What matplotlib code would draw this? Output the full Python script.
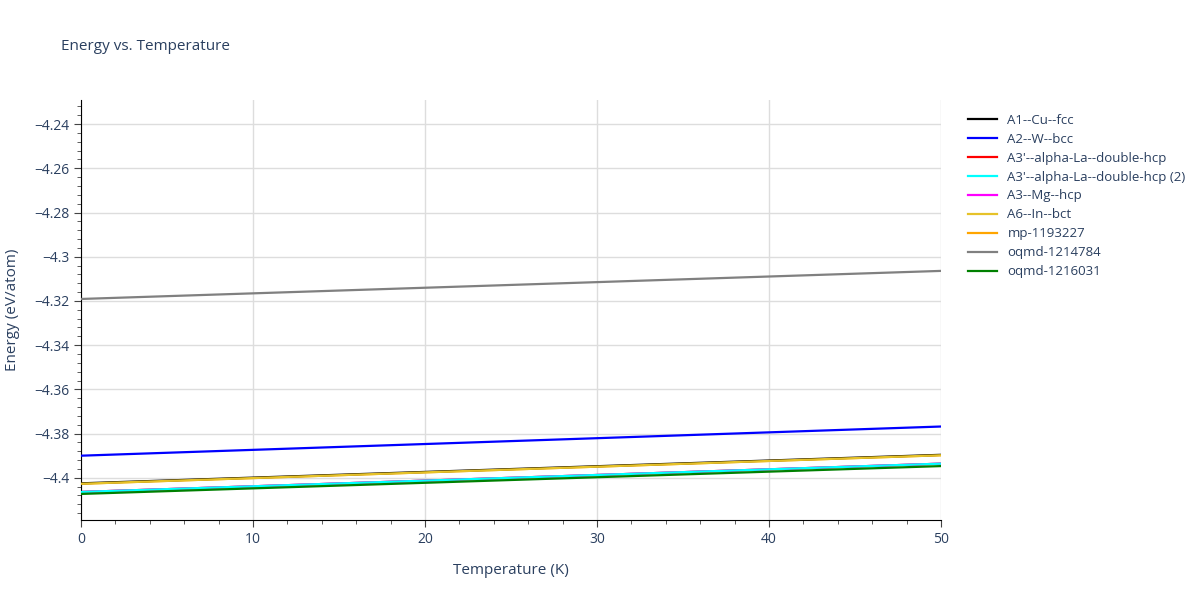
import numpy as np
import matplotlib.pyplot as plt
from matplotlib.ticker import MultipleLocator, FuncFormatter

plt.rcParams['font.family'] = ['Open Sans', 'DejaVu Sans']

# temperature endpoints (K) and energy (eV/atom) per structure
temps = [0, 50]
labels = ["A1--Cu--fcc", "A2--W--bcc", "A3'--alpha-La--double-hcp",
          "A3'--alpha-La--double-hcp (2)", "A3--Mg--hcp", "A6--In--bct",
          "mp-1193227", "oqmd-1214784", "oqmd-1216031"]
colors = ["black", "blue", "red", "cyan", "magenta", "#e6c229",
          "orange", "gray", "green"]
zorders = [3, 3, 2, 4, 2, 5, 2, 3, 6]

e_a1 = [-4.4025, -4.3896]
e_a2 = [-4.3900, -4.3768]
e_a3p = [-4.4064, -4.3936]
e_a3p2 = [-4.4064, -4.3936]
e_a3 = [-4.4064, -4.3936]
e_a6 = [-4.4027, -4.3898]
e_mp = [-4.4027, -4.3898]
e_oq1 = [-4.3191, -4.3064]
e_oq2 = [-4.4073, -4.3947]
energies = [e_a1, e_a2, e_a3p, e_a3p2, e_a3, e_a6, e_mp, e_oq1, e_oq2]

TXT = "#2a3f5f"

fig = plt.figure(figsize=(12, 6), dpi=100)
ax = fig.add_axes([0.0675, 0.1333, 0.7167, 0.7])

for lab, col, e, z in zip(labels, colors, energies, zorders):
    ax.plot(temps, e, color=col, linewidth=1.6, label=lab, zorder=z)

ax.set_xlim(0, 50)
ax.set_ylim(-4.4191, -4.2291)
ax.xaxis.set_major_locator(MultipleLocator(10))
ax.xaxis.set_minor_locator(MultipleLocator(2))
ax.yaxis.set_major_locator(MultipleLocator(0.02))
ax.yaxis.set_minor_locator(MultipleLocator(0.004))

def fmt(v, pos):
    s = f"{v:.2f}".rstrip("0").rstrip(".")
    return s.replace("-", "\u2212")
ax.yaxis.set_major_formatter(FuncFormatter(fmt))

ax.grid(True, which="major", color="#dddddd", linewidth=1)
ax.set_axisbelow(True)
for side in ["top", "right"]:
    ax.spines[side].set_visible(False)
ax.spines["left"].set_color("black")
ax.spines["bottom"].set_color("black")
ax.tick_params(which="major", direction="out", length=5, color="#444444",
               labelcolor=TXT, labelsize=10)
ax.tick_params(which="minor", direction="out", length=3, color="#444444")

ax.set_xlabel("Temperature (K)", color=TXT, fontsize=11, labelpad=12)
ax.set_ylabel("Energy (eV/atom)", color=TXT, fontsize=11)
ax.yaxis.set_label_coords(-0.071, 0.5)
fig.text(0.051, 0.922, "Energy vs. Temperature", color=TXT, fontsize=11,
         va="center")

leg = ax.legend(loc="upper left", bbox_to_anchor=(1.025, 0.98), frameon=False,
                fontsize=9.5, handlelength=2.2, labelspacing=0.45,
                labelcolor=TXT, borderaxespad=0)

fig.savefig("out.png", dpi=100)
